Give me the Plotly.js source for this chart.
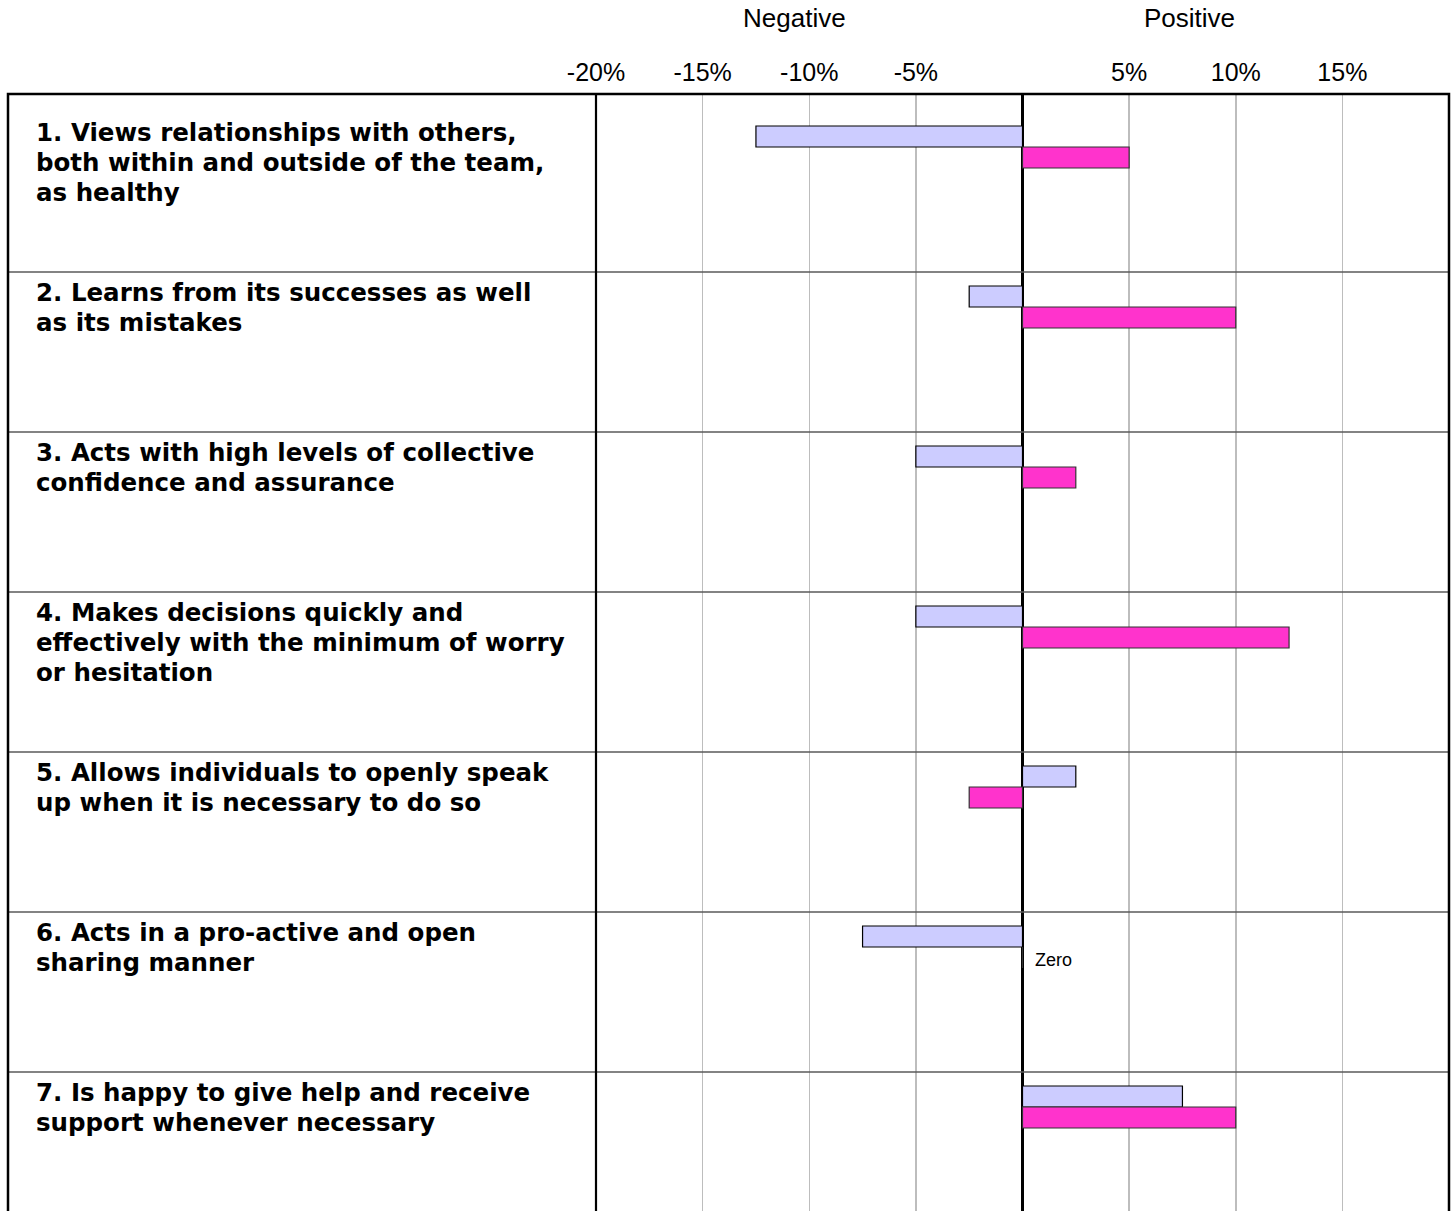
<!DOCTYPE html>
<html>
<head>
<meta charset="utf-8">
<script src="https://cdn.plot.ly/plotly-3.0.1.min.js"></script>
<style>
  html, body { margin: 0; padding: 0; background: #ffffff; }
  #chart { width: 1454px; height: 1211px; }
</style>
</head>
<body>
<div id="chart"></div>
<script>
// ---- data ----
const statements = [
  "1. Views relationships with others,<br>both within and outside of the team,<br>as healthy",
  "2. Learns from its successes as well<br>as its mistakes",
  "3. Acts with high levels of collective<br>confidence and assurance",
  "4. Makes decisions quickly and<br>effectively with the minimum of worry<br>or hesitation",
  "5. Allows individuals to openly speak<br>up when it is necessary to do so",
  "6. Acts in a pro-active and open<br>sharing manner",
  "7. Is happy to give help and receive<br>support whenever necessary"
];
const seriesA = [-12.5, -2.5, -5, -5, 2.5, -7.5, 7.5];   // lavender bars (%)
const seriesB = [5, 10, 2.5, 12.5, -2.5, 0, 10];          // pink bars (%)
const tickValues = [-20, -15, -10, -5, 5, 10, 15];
const tickLabels = ["-20%", "-15%", "-10%", "-5%", "5%", "10%", "15%"];
const headerLabels = ["Negative", "Positive"];

// ---- layout geometry (pixels) ----
const W = 1454, H = 1211;
const plotLeft = 596, plotRight = 1449, plotTop = 94;
const rowTop0 = 112, rowH = 160, frameLeft = 8;
const FONT = "Liberation Sans, Arial, sans-serif";
const LABEL_FONT = "DejaVu Sans, Liberation Sans, Arial, sans-serif";
const lineGap = 30, firstLine = 20;

const idx = statements.map((_, i) => i);
const yTop = (plotTop - rowTop0) / rowH;          // in row units
const yBottom = (H - rowTop0) / rowH;
const barH = 21 / rowH;
const offA = 24.5 / rowH, offB = 45.5 / rowH;

const traceA = {
  type: "bar", orientation: "h",
  x: seriesA, y: idx.map(i => i + offA), width: barH,
  marker: { color: "#CCCCFF", line: { color: "#000000", width: 1.2 } },
  hoverinfo: "skip", showlegend: false
};
const traceB = {
  type: "bar", orientation: "h",
  x: seriesB, y: idx.map(i => i + offB), width: barH,
  marker: { color: "#FF33CC", line: { color: "#333333", width: 1.2 } },
  hoverinfo: "skip", showlegend: false
};

const paperX = px => (px - plotLeft) / (plotRight - plotLeft);

const annotations = [];
statements.forEach((s, i) => {
  s.split("<br>").forEach((line, j) => {
    annotations.push({
      xref: "paper", yref: "y", x: paperX(34), y: i + (firstLine + j * lineGap) / rowH,
      xanchor: "left", yanchor: "middle", align: "left", showarrow: false,
      text: "<b>" + line + "</b>",
      font: { family: LABEL_FONT, size: 24.5, color: "#000000" }
    });
  });
});
seriesB.forEach((v, i) => {
  if (v === 0) {
    annotations.push({
      xref: "x", yref: "y", x: 0, y: i + offB,
      xanchor: "left", yanchor: "middle", xshift: 10, yshift: -2, showarrow: false,
      text: "Zero", font: { family: FONT, size: 18, color: "#000000" }
    });
  }
});
annotations.push({
  xref: "paper", yref: "paper", x: paperX(794), y: 1, yshift: plotTop - 18,
  xanchor: "center", yanchor: "middle", showarrow: false,
  text: headerLabels[0], font: { family: FONT, size: 26, color: "#000000" }
});
annotations.push({
  xref: "paper", yref: "paper", x: paperX(1189), y: 1, yshift: plotTop - 18,
  xanchor: "center", yanchor: "middle", showarrow: false,
  text: headerLabels[1], font: { family: FONT, size: 26, color: "#000000" }
});

const shapes = [];
for (let k = 1; k < statements.length; k++) {
  shapes.push({
    type: "line", xref: "paper", yref: "y",
    x0: paperX(frameLeft), x1: 1, y0: k, y1: k,
    line: { color: "#5a5a5a", width: 1.6 }, layer: "above"
  });
}
shapes.push({
  type: "rect", xref: "paper", yref: "paper",
  x0: paperX(frameLeft), x1: 1, y0: -0.02, y1: 1,
  line: { color: "#000000", width: 2.5 }, layer: "above"
});
shapes.push({
  type: "line", xref: "paper", yref: "paper",
  x0: 0, x1: 0, y0: -0.02, y1: 1,
  line: { color: "#000000", width: 2.2 }, layer: "above"
});

const layout = {
  width: W, height: H,
  margin: { l: plotLeft, r: W - plotRight, t: plotTop, b: 0, pad: 0 },
  paper_bgcolor: "#ffffff", plot_bgcolor: "#ffffff",
  barmode: "overlay",
  font: { family: FONT, color: "#000000" },
  xaxis: {
    range: [-20, 20], side: "top",
    tickmode: "array", tickvals: tickValues, ticktext: tickLabels,
    tickfont: { family: FONT, size: 25, color: "#000000" },
    ticklabelstandoff: 7,
    ticks: "", showgrid: true, gridcolor: "#bdbdbd", gridwidth: 1.5,
    zeroline: true, zerolinecolor: "#000000", zerolinewidth: 2.2,
    showline: false, fixedrange: true
  },
  yaxis: {
    range: [yBottom, yTop], showticklabels: false, ticks: "",
    showgrid: false, zeroline: false, showline: false, fixedrange: true
  },
  annotations: annotations,
  shapes: shapes,
  showlegend: false
};

Plotly.newPlot("chart", [traceA, traceB], layout, { displayModeBar: false, staticPlot: true });
</script>
</body>
</html>
